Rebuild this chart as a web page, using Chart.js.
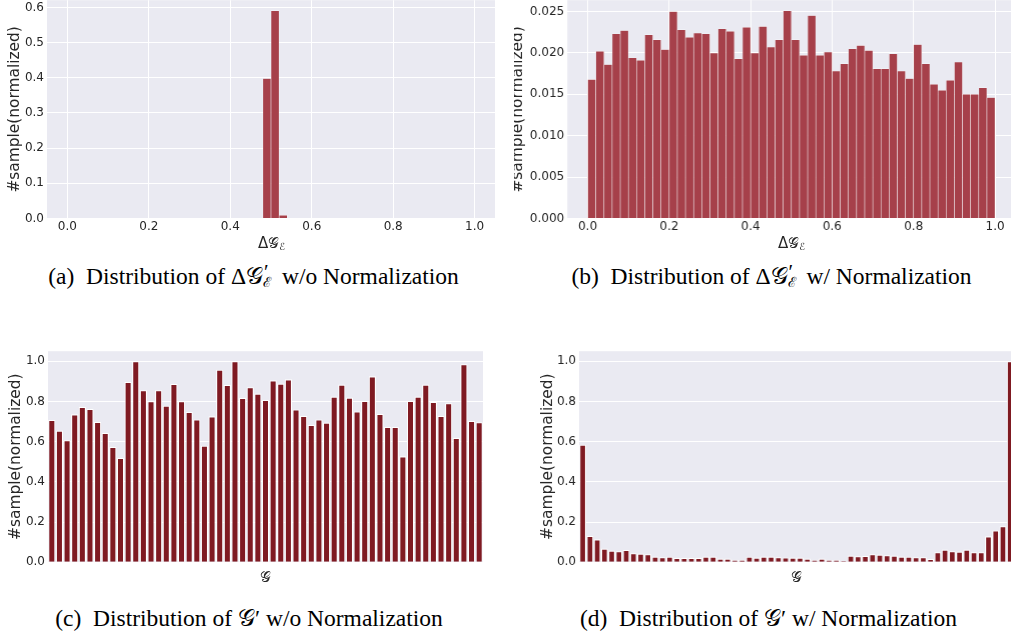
<!doctype html>
<html lang="en">
<head>
<meta charset="utf-8">
<title>Distribution of G and ΔG_E</title>
<style>
  * { margin: 0; padding: 0; }
  body { width: 1011px; height: 636px; background: #fff; position: relative; overflow: hidden; }
  .panel { position: absolute; overflow: hidden; }
  .wrap { position: absolute; left: 0; top: 0; }
  .xt { position: absolute; transform: translate(-50%, -50%); font-family: "DejaVu Sans", sans-serif; font-size: 15px; color: #262626; white-space: nowrap; }
  .xt sub { font-size: 0.65em; vertical-align: -0.3em; }
  .cap { position: absolute; transform: translate(-50%, -50%); font-family: "Liberation Serif", "Times New Roman", serif; font-size: 23.5px; line-height: 28px; color: #000; white-space: nowrap; }
  .cal { font-family: "DejaVu Sans", "DejaVu Serif", serif; }
  .ss { position: relative; display: inline-block; width: 13px; height: 23.5px; }
  .ss .p { position: absolute; left: 1px; top: 2px; font-size: 21px; line-height: 21px; }
  .ss .e { position: absolute; left: 0; top: 16px; font-size: 14px; line-height: 14px; }
</style>
</head>
<body>
  <div class="panel" id="pa" style="left:0; top:0; width:505px; height:260px"><div class="wrap"><canvas id="ca"></canvas></div></div>
  <div class="panel" id="pb" style="left:513.5px; top:0; width:497.5px; height:260px"><div class="wrap"><canvas id="cb"></canvas></div></div>
  <div class="panel" id="pc" style="left:0; top:300px; width:505px; height:290px"><div class="wrap"><canvas id="cc"></canvas></div></div>
  <div class="panel" id="pd" style="left:505px; top:300px; width:506px; height:290px"><div class="wrap"><canvas id="cd"></canvas></div></div>

  <div class="xt" style="left:271.5px; top:243px">Δ<span class="cal">𝒢</span><sub>ℰ</sub></div>
  <div class="xt" style="left:791.5px; top:243px">Δ<span class="cal">𝒢</span><sub>ℰ</sub></div>
  <div class="xt" style="left:265px; top:577px"><span class="cal">𝒢</span></div>
  <div class="xt" style="left:796.5px; top:577px"><span class="cal">𝒢</span></div>

  <div class="cap" style="left:253.5px; top:275px">(a)&nbsp; Distribution of Δ<span class="cal">𝒢</span><span class="ss"><span class="p">′</span><span class="e">ℰ</span></span> w/o Normalization</div>
  <div class="cap" style="left:771.5px; top:275px">(b)&nbsp; Distribution of Δ<span class="cal">𝒢</span><span class="ss"><span class="p">′</span><span class="e">ℰ</span></span> w/ Normalization</div>
  <div class="cap" style="left:249px; top:618px">(c)&nbsp; Distribution of <span class="cal">𝒢</span>′ w/o Normalization</div>
  <div class="cap" style="left:768.5px; top:618px">(d)&nbsp; Distribution of <span class="cal">𝒢</span>′ w/ Normalization</div>

<script src="https://cdn.jsdelivr.net/npm/chart.js/dist/chart.umd.min.js"></script>
<script>
// ---- data ----
const xTicks = [0, 0.2, 0.4, 0.6, 0.8, 1.0];
const xTickLabels = ['0.0', '0.2', '0.4', '0.6', '0.8', '1.0'];

// histogram bins of width 0.02 over [0, 1]
const binCenters = [0.01, 0.03, 0.05, 0.07, 0.09, 0.11, 0.13, 0.15, 0.17, 0.19,
  0.21, 0.23, 0.25, 0.27, 0.29, 0.31, 0.33, 0.35, 0.37, 0.39,
  0.41, 0.43, 0.45, 0.47, 0.49, 0.51, 0.53, 0.55, 0.57, 0.59,
  0.61, 0.63, 0.65, 0.67, 0.69, 0.71, 0.73, 0.75, 0.77, 0.79,
  0.81, 0.83, 0.85, 0.87, 0.89, 0.91, 0.93, 0.95, 0.97, 0.99];

// (a) delta G_E without normalization
const histA = [0, 0, 0, 0, 0, 0, 0, 0, 0, 0,
  0, 0, 0, 0, 0, 0, 0, 0, 0, 0,
  0, 0, 0, 0, 0.398, 0.591, 0.009, 0, 0, 0,
  0, 0, 0, 0, 0, 0, 0, 0, 0, 0,
  0, 0, 0, 0, 0, 0, 0, 0, 0, 0];
const yTicksA = [0, 0.1, 0.2, 0.3, 0.4, 0.5, 0.6];
const yTickLabelsA = ['0.0', '0.1', '0.2', '0.3', '0.4', '0.5', '0.6'];

// (b) delta G_E with normalization
const histB = [0.0168, 0.0202, 0.0186, 0.0223, 0.0227, 0.0194, 0.0191, 0.0222, 0.0216, 0.0204,
  0.0250, 0.0228, 0.0219, 0.0224, 0.0223, 0.0200, 0.0229, 0.0226, 0.0193, 0.0231,
  0.0200, 0.0232, 0.0207, 0.0216, 0.0251, 0.0216, 0.0197, 0.0245, 0.0197, 0.0201,
  0.0178, 0.0187, 0.0205, 0.0209, 0.0203, 0.0181, 0.0181, 0.0199, 0.0178, 0.0169,
  0.0210, 0.0187, 0.0162, 0.0155, 0.0167, 0.0189, 0.0150, 0.0150, 0.0158, 0.0146];
const yTicksB = [0, 0.005, 0.010, 0.015, 0.020, 0.025];
const yTickLabelsB = ['0.000', '0.005', '0.010', '0.015', '0.020', '0.025'];

// (c) G without normalization, 57 groups
const barsC = [0.708, 0.655, 0.607, 0.736, 0.773, 0.763, 0.698, 0.643, 0.574, 0.519,
  0.897, 1.0, 0.856, 0.801, 0.856, 0.779, 0.887, 0.801, 0.748, 0.710,
  0.580, 0.726, 0.958, 0.882, 1.0, 0.818, 0.871, 0.839, 0.808, 0.905,
  0.889, 0.910, 0.760, 0.728, 0.683, 0.710, 0.695, 0.824, 0.884, 0.819,
  0.750, 0.803, 0.925, 0.738, 0.673, 0.673, 0.527, 0.803, 0.824, 0.884,
  0.798, 0.728, 0.791, 0.619, 0.985, 0.703, 0.697];

// (d) G with normalization, 60 groups
const barsD = [0.585, 0.131, 0.114, 0.068, 0.058, 0.055, 0.061, 0.045, 0.043, 0.040,
  0.028, 0.025, 0.027, 0.022, 0.022, 0.022, 0.022, 0.028, 0.028, 0.018,
  0.018, 0.012, 0.012, 0.027, 0.023, 0.028, 0.028, 0.025, 0.024, 0.023,
  0.023, 0.018, 0.012, 0.018, 0.012, 0.012, 0.007, 0.033, 0.030, 0.031,
  0.040, 0.038, 0.035, 0.033, 0.028, 0.027, 0.025, 0.025, 0.017, 0.050,
  0.063, 0.055, 0.053, 0.063, 0.050, 0.050, 0.129, 0.158, 0.179, 1.0];
const yTicksCD = [0, 0.2, 0.4, 0.6, 0.8, 1.0];
const yTickLabelsCD = ['0.0', '0.2', '0.4', '0.6', '0.8', '1.0'];

const catsC = barsC.map((_, i) => String(i));
const catsD = barsD.map((_, i) => String(i));

// ---- styles ----
const INK = '#262626';
const PANEL_BG = '#EAEAF2';
const HIST_RED = '#A6404A';
const BAR_RED = '#7F1A22';
const tickFont = { family: 'DejaVu Sans', size: 12 };
const titleFont = { family: 'DejaVu Sans', size: 15.4, lineHeight: 1 };

const panelBg = {
  id: 'panelBg',
  beforeDraw(chart) {
    const { ctx, chartArea: a } = chart;
    ctx.save();
    ctx.fillStyle = PANEL_BG;
    ctx.fillRect(a.left, a.top, a.right - a.left, a.bottom - a.top);
    ctx.restore();
  }
};

function yAxis(max, ticks, labels, width) {
  return {
    min: 0,
    max: max,
    afterBuildTicks: s => { s.ticks = ticks.map(v => ({ value: v })); },
    afterFit: s => { s.width = width; },
    grid: { color: '#ffffff', lineWidth: 1, drawTicks: false },
    border: { display: false },
    ticks: { color: INK, font: tickFont, padding: 3, callback: (v, i) => labels[i] },
    title: { display: true, text: '#sample(normalized)', color: INK, font: titleFont, padding: { top: 7.8, bottom: 0 } }
  };
}

function histX() {
  return {
    type: 'linear',
    min: -0.05,
    max: 1.05,
    offset: false,
    afterBuildTicks: s => { s.ticks = xTicks.map(v => ({ value: v })); },
    afterFit: s => { s.height = 22; },
    grid: { color: '#ffffff', lineWidth: 1, drawTicks: false, offset: false },
    border: { display: false },
    ticks: { color: INK, font: tickFont, padding: 1, maxRotation: 0, autoSkip: false, callback: (v, i) => xTickLabels[i] }
  };
}

function catX() {
  return {
    type: 'category',
    offset: true,
    afterFit: s => { s.height = 4; },
    grid: { display: false },
    border: { display: false },
    ticks: { display: false }
  };
}

const common = {
  responsive: true,
  maintainAspectRatio: false,
  animation: false,
  events: [],
  layout: { padding: 0 },
  plugins: { legend: { display: false }, tooltip: { enabled: false } }
};

function histConfig(values, yMax, yTicks, yLabels, yWidth) {
  return {
    type: 'bar',
    data: {
      datasets: [{
        data: binCenters.map((x, i) => ({ x: x, y: values[i] })),
        backgroundColor: HIST_RED,
        borderColor: 'rgba(255,255,255,0.55)',
        borderWidth: 0.6,
        barPercentage: 1,
        categoryPercentage: 1
      }]
    },
    options: Object.assign({}, common, {
      scales: { x: histX(), y: yAxis(yMax, yTicks, yLabels, yWidth) }
    }),
    plugins: [panelBg]
  };
}

function barConfig(labels, values, yWidth) {
  return {
    type: 'bar',
    data: {
      labels: labels,
      datasets: [{
        data: values,
        backgroundColor: BAR_RED,
        borderColor: '#ffffff',
        borderWidth: 1.1,
        barPercentage: 0.945,
        categoryPercentage: 1
      }]
    },
    options: Object.assign({}, common, {
      scales: { x: catX(), y: yAxis(1.05, yTicksCD, yTickLabelsCD, yWidth) }
    }),
    plugins: [panelBg]
  };
}

// place a chart so its plot area lands on box (coords relative to its panel)
function mount(canvasId, box, config) {
  const canvas = document.getElementById(canvasId);
  const wrap = canvas.parentElement;
  wrap.style.width = (box.w + 150) + 'px';
  wrap.style.height = (box.h + 150) + 'px';
  const chart = new Chart(canvas, config);
  const a = chart.chartArea;
  wrap.style.width = (chart.width - (a.right - a.left) + box.w) + 'px';
  wrap.style.height = (chart.height - (a.bottom - a.top) + box.h) + 'px';
  chart.resize();
  const b = chart.chartArea;
  wrap.style.left = (box.x - b.left) + 'px';
  wrap.style.top = (box.y - b.top) + 'px';
  return chart;
}

mount('ca', { x: 47.4, y: 0, w: 448, h: 218.3 }, histConfig(histA, 0.6207, yTicksA, yTickLabelsA, 48));
mount('cb', { x: 53.9, y: 0, w: 447.2, h: 218.3 }, histConfig(histB, 0.02636, yTicksB, yTickLabelsB, 65.2));
mount('cc', { x: 47.5, y: 50.7, w: 435, h: 211 }, barConfig(catsC, barsC, 48));
mount('cd', { x: 74.4, y: 50.7, w: 433.8, h: 211 }, barConfig(catsD, barsD, 47));
</script>
</body>
</html>
